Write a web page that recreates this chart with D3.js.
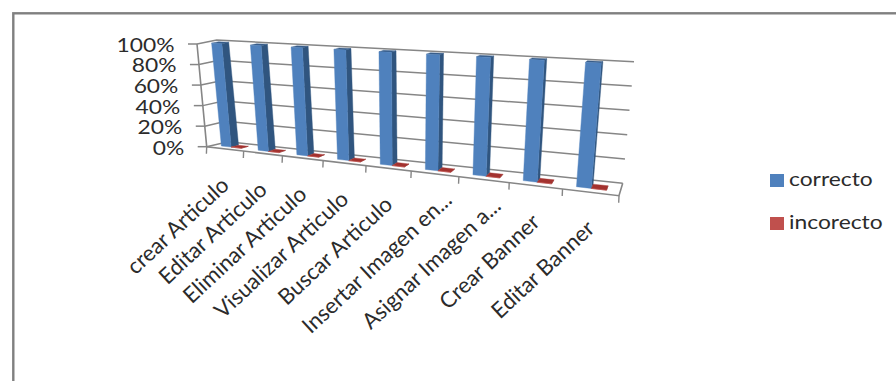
<!DOCTYPE html>
<html><head><meta charset="utf-8">
<script src="https://cdn.jsdelivr.net/npm/d3@7"></script>
<style>html,body{margin:0;padding:0;background:#fff}svg{display:block}text{font-family:Lato,"Open Sans",sans-serif;fill:#2b2b2b}</style>
</head><body><svg id="c" width="896" height="381"></svg>
<script>
const categories=["crear Articulo","Editar Articulo","Eliminar Articulo","Visualizar Articulo","Buscar Articulo","Insertar Imagen en...","Asignar Imagen a...","Crear Banner","Editar Banner"];
const seriesNames=["correcto","incorecto"];
const correcto=[100,100,100,100,100,100,100,100,100];
const incorecto=[0,0,0,0,0,0,0,0,0];
const yTicks=[0,20,40,60,80,100];

const svg=d3.select("#c");
svg.append("rect").attr("x",13.3).attr("y",13.3).attr("width",900).attr("height",400).attr("fill","#fff").attr("stroke","#808080").attr("stroke-width",2.4);

const C={FL0:[206.7,146.7],FR0:[619,195.7],BL0:[228,141.7],BR0:[622.7,183.3],
         FL1:[197,44],FR1:[630.5,66],BL1:[216.7,40],BR1:[634,61.7]};
const k=0.27;
const xBand=d3.scaleBand().domain(categories).range([0,1]);
const inner=d3.scaleBand().domain(seriesNames).range([0.22,0.76]);
const yS=d3.scaleLinear().domain([0,100]).range([0,1]);
const lerp=(a,b,t)=>[a[0]+(b[0]-a[0])*t,a[1]+(b[1]-a[1])*t];
const warp=t=>t/(1+k*(1-t));
function P(t,val,w){
  const u=warp(t),v=yS(val);
  const f0=lerp(C.FL0,C.FR0,u),f1=lerp(C.FL1,C.FR1,u),b0=lerp(C.BL0,C.BR0,u),b1=lerp(C.BL1,C.BR1,u);
  return lerp(lerp(f0,b0,w),lerp(f1,b1,w),v);
}
const line=d3.line();
const grey="#868686";
const g=svg.append("g");
yTicks.forEach(v=>{
  g.append("path").attr("d",line([P(0,v,0),P(0,v,1),P(1,v,1)])).attr("fill","none").attr("stroke",grey).attr("stroke-width",1.5);
  const a=P(0,v,0);
  g.append("path").attr("d",line([[a[0]-9,a[1]],a])).attr("fill","none").attr("stroke",grey).attr("stroke-width",1.5);
  g.append("text").attr("transform",`translate(${a[0]-22.5},${a[1]+3}) scale(1.17,1)`).attr("text-anchor","end").attr("dominant-baseline","middle").attr("font-size",19.5).text(v+"%");
});
g.append("path").attr("d",line([P(0,100,0),P(0,0,0),P(1,0,0),P(1,0,1)])).attr("fill","none").attr("stroke",grey).attr("stroke-width",1.6);
d3.range(categories.length+1).forEach(i=>{
  const a=P(i/categories.length,0,0);
  g.append("path").attr("d",line([a,[a[0]-0.3,a[1]+7]])).attr("fill","none").attr("stroke",grey).attr("stroke-width",1.4);
});
const w0=0.32,w1=0.68;
const palette={correcto:{front:"#4f81bd",side:"#30557f",top:"#385d8a"},incorecto:{front:"#c0504d",side:"#7d2f2d",top:"#a3322f"}};
function bar(cat,name,val){
  const t0=(xBand(cat)+inner(name)*xBand.bandwidth()),t1=t0+inner.bandwidth()*xBand.bandwidth();
  const pal=palette[name];
  const poly=(pts,fill)=>g.append("path").attr("d",line(pts)+"Z").attr("fill",fill).attr("stroke",fill).attr("stroke-width",0.4);
  poly([P(t1,0,w0),P(t1,0,w1),P(t1,val,w1),P(t1,val,w0)],pal.side);
  poly([P(t0,val,w0),P(t1,val,w0),P(t1,val,w1),P(t0,val,w1)],pal.top);
  poly([P(t0,0,w0),P(t1,0,w0),P(t1,val,w0),P(t0,val,w0)],pal.front);
}
categories.forEach((c,i)=>{bar(c,"correcto",correcto[i]);bar(c,"incorecto",incorecto[i]);});
categories.forEach(c=>{
  const a=P(xBand(c)+xBand.bandwidth()/2,0,0);
  const ell=c.endsWith("...");
  g.append("text").attr("text-anchor","end").attr("font-size",22)
   .attr("transform",`translate(${a[0]+(ell?18.5:5.5)},${a[1]+(ell?28:38)}) rotate(-43)`).text(c);
});
const leg=svg.append("g");
const legY=d3.scalePoint().domain(seriesNames).range([180.5,223.5]);
seriesNames.forEach(n=>{
  leg.append("rect").attr("x",770).attr("y",legY(n)-6.5).attr("width",14).attr("height",13).attr("fill",palette[n].front);
  leg.append("text").attr("transform",`translate(789,${legY(n)+0.5}) scale(1.17,1)`).attr("dominant-baseline","middle").attr("font-size",19.5).text(n);
});
</script></body></html>
